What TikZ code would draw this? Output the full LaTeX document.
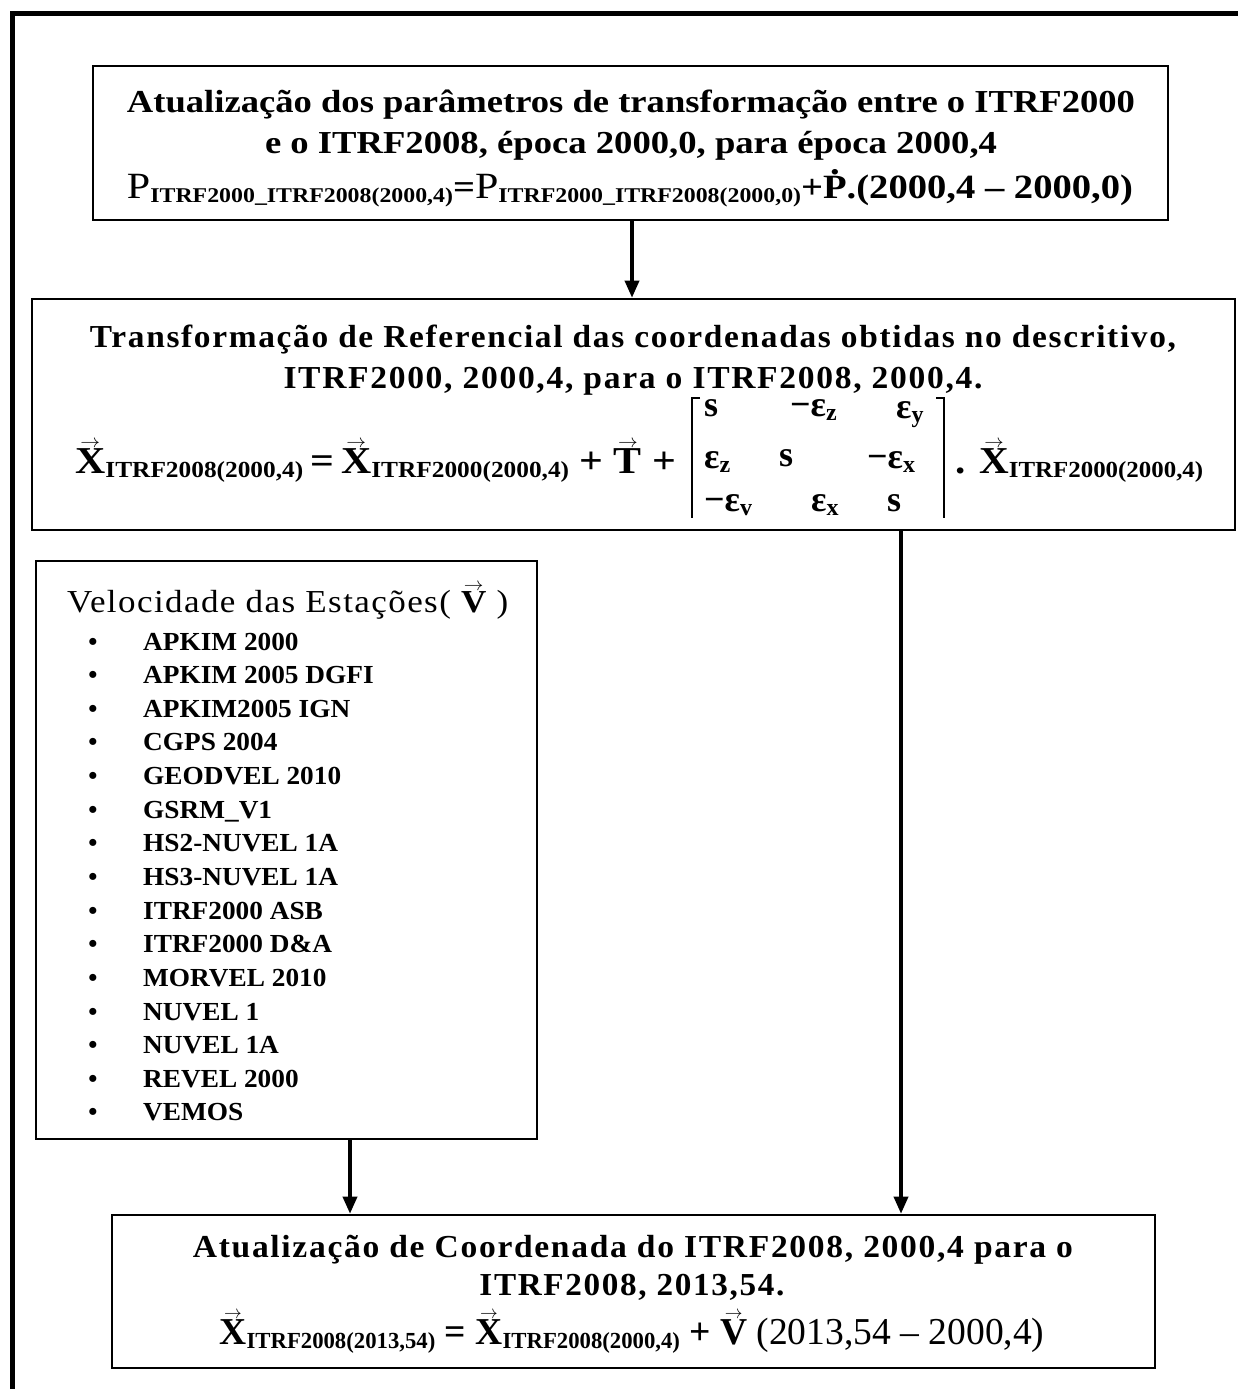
\documentclass[tikz,border=0pt]{standalone}
\usepackage{fontspec}
\setmainfont{Liberation Serif}
\usepackage{graphicx}
\usetikzlibrary{arrows.meta,calc}
\newcommand\varw[1]{\leavevmode\vbox{\offinterlineskip\halign{\hfil##\hfil\cr\scalebox{0.72}[0.75]{$\rightarrow$}\cr\noalign{\kern1pt}#1\cr}}}
\newcommand\sbx[2]{\raisebox{-0.12em}{\fontsize{#1}{#1}\selectfont #2}}
\newcommand\dotp{\leavevmode\vbox{\offinterlineskip\halign{\hfil##\hfil\cr .\cr\noalign{\kern1pt}P\cr}}}
\newcommand\fitw[2]{\resizebox{#1}{\height}{#2}}
\begin{document}
\begin{tikzpicture}[x=1pt,y=-1pt,
  box/.style={draw, line width=2.6pt, inner sep=0pt},
  arr/.style={line width=3.5pt,-{Triangle[length=17pt,width=14pt]}},
  txt/.style={anchor=base, inner sep=0pt, font=\fontsize{32}{38}\selectfont\bfseries},
  spaced/.style={font=\fontsize{32}{38}\selectfont\bfseries\addfontfeature{LetterSpace=5}},
  eq/.style={inner sep=0pt, font=\fontsize{38}{44}\selectfont\bfseries},
  ent/.style={anchor=base west, inner sep=0pt, font=\fontsize{36}{42}\selectfont\bfseries},
  brk/.style={line width=1.2pt},
  item/.style={anchor=base west, inner sep=0pt, font=\fontsize{26}{30}\selectfont\bfseries}]
\useasboundingbox (0,0) rectangle (1237,1389);
\draw[line width=5pt] (12,1395) -- (12,14) -- (1245,14);
% box 1
\node[box, minimum width=1075pt, minimum height=154pt] (b1) at (630.5,143) {};
\node[txt] (t1a) at (631,112) {\fitw{1008pt}{Atualização dos parâmetros de transformação entre o ITRF2000}};
\node[txt] (t1b) at (631,153) {\fitw{732pt}{e o ITRF2008, época 2000,0, para época 2000,4}};
\node[txt, font=\fontsize{34}{40}\selectfont\bfseries] (t1c) at (630,198) {\fitw{1006pt}{{\mdseries\fontsize{37}{40}\selectfont P}\sbx{21}{ITRF2000\_ITRF2008(2000,4)}={\mdseries\fontsize{37}{40}\selectfont P}\sbx{21}{ITRF2000\_ITRF2008(2000,0)}+\dotp.(2000,4 – 2000,0)}};
% box 2
\node[box, minimum width=1203pt, minimum height=231pt] (b2) at (633.5,414.5) {};
\node[txt, spaced] (t2a) at (633,347) {\fitw{1086pt}{Transformação de Referencial das coordenadas obtidas no descritivo,}};
\node[txt, spaced] (t2b) at (633,388) {\fitw{699pt}{ITRF2000, 2000,4, para o ITRF2008, 2000,4.}};
\node[eq, anchor=base west] (t2l) at (75,473) {\fitw{601pt}{\varw{X}\sbx{23}{ITRF2008(2000,4)}\,=\,\varw{X}\sbx{23}{ITRF2000(2000,4)} + \varw{T} +}};
\node[ent] (m11) at (704,416) {s};
\node[ent] (m12) at (790,416) {−ε\sbx{24}{z}};
\node[ent] (m13) at (896,418) {ε\sbx{24}{y}};
\node[ent] (m21) at (704,468) {ε\sbx{24}{z}};
\node[ent] (m22) at (779,466) {s};
\node[ent] (m23) at (867,468) {−ε\sbx{24}{x}};
\node[ent] (m31) at (704,511) {−ε\sbx{24}{v}};
\node[ent] (m32) at (811,511) {ε\sbx{24}{x}};
\node[ent] (m33) at (887,511) {s};
\coordinate (lbt) at (692,398);
\coordinate (lbb) at (692,518);
\coordinate (rbt) at (944,398);
\coordinate (rbb) at (944,518);
\draw[brk] ($(lbt)+(8,0)$) -- (lbt) -- (lbb);
\draw[brk] ($(rbt)+(-8,0)$) -- (rbt) -- (rbb);
\node[eq, anchor=base west] (t2r) at (955,473) {\fitw{248pt}{. \varw{X}\sbx{23}{ITRF2000(2000,4)}}};
% box 3
\node[box, minimum width=501pt, minimum height=578pt] (b3) at (286.5,850) {};
\node[anchor=base west, inner sep=0pt, font=\fontsize{32}{38}\selectfont\addfontfeature{LetterSpace=4}] (t3) at (67,612) {\fitw{441pt}{Velocidade das Estações( \varw{\bfseries V} )}};
\foreach \n [count=\i] in {APKIM 2000, APKIM 2005 DGFI, APKIM2005 IGN, CGPS 2004, GEODVEL 2010, GSRM\_V1, HS2-NUVEL 1A, HS3-NUVEL 1A, ITRF2000 ASB, ITRF2000 D\&A, MORVEL 2010, NUVEL 1, NUVEL 1A, REVEL 2000, VEMOS}{
  \node[item, anchor=base] (bu\i) at (93,{650+33.64*(\i-1)}) {•};
  \node[item] (it\i) at (143,{650+33.64*(\i-1)}) {\scalebox{1.05}[1]{\n}};
}
% box 4
\node[box, minimum width=1043pt, minimum height=153pt] (b4) at (633.5,1291.5) {};
\node[txt, spaced] (t4a) at (633,1257) {\fitw{880pt}{Atualização de Coordenada do ITRF2008, 2000,4 para o}};
\node[txt, spaced] (t4b) at (632,1295) {\fitw{305pt}{ITRF2008, 2013,54.}};
\node[eq, anchor=base] (t4c) at (632,1344) {\fitw{825pt}{\varw{X}\sbx{23}{ITRF2008(2013,54)} = \varw{X}\sbx{23}{ITRF2008(2000,4)} + \varw{V} {\mdseries(2013,54 – 2000,4)}}};
% connectors
\coordinate (a1) at ($(b1.south)+(1.5,0)$);
\coordinate (a2) at ($(b3.south)+(63.5,0)$);
\coordinate (a3) at ($(b2.south)+(267.5,0)$);
\draw[arr] (a1) -- (a1 |- b2.north);
\draw[arr] (a2) -- (a2 |- b4.north);
\draw[arr] (a3) -- (a3 |- b4.north);
\end{tikzpicture}
\end{document}
